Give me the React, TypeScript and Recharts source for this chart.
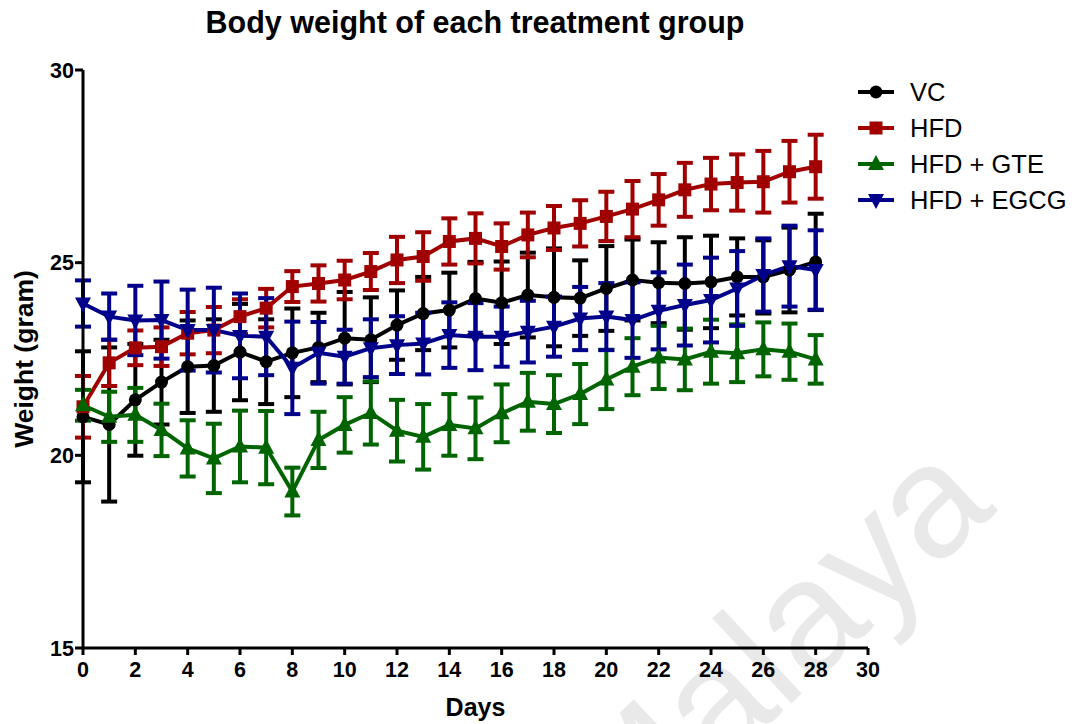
import React from 'react';
import { LineChart, Line, XAxis, YAxis, ErrorBar, Label } from 'recharts';

const days = [0, 1, 2, 3, 4, 5, 6, 7, 8, 9, 10, 11, 12, 13, 14, 15, 16, 17, 18, 19, 20, 21, 22, 23, 24, 25, 26, 27, 28];

const vc = [21.0, 20.8, 21.44, 21.9, 22.3, 22.33, 22.68, 22.43, 22.66, 22.8, 23.04, 23.0, 23.38, 23.68, 23.77, 24.07, 23.96, 24.16, 24.1, 24.08, 24.33, 24.55, 24.48, 24.46, 24.5, 24.63, 24.63, 24.81, 25.02];
const vcSem = [1.7, 2.0, 1.45, 1.1, 1.2, 1.2, 1.25, 1.1, 1.15, 0.9, 1.2, 1.1, 0.9, 0.95, 0.97, 0.95, 1.07, 1.1, 1.27, 0.98, 1.1, 1.05, 1.05, 1.2, 1.2, 1.0, 0.95, 1.1, 1.25];

const hfd = [21.26, 22.4, 22.79, 22.82, 23.17, 23.25, 23.6, 23.82, 24.38, 24.46, 24.55, 24.77, 25.07, 25.16, 25.55, 25.63, 25.42, 25.72, 25.9, 26.02, 26.2, 26.39, 26.63, 26.89, 27.04, 27.08, 27.1, 27.36, 27.49];
const hfdSem = [0.8, 0.6, 0.45, 0.5, 0.55, 0.6, 0.45, 0.5, 0.4, 0.47, 0.5, 0.48, 0.6, 0.63, 0.6, 0.65, 0.6, 0.58, 0.57, 0.6, 0.64, 0.73, 0.67, 0.7, 0.68, 0.73, 0.8, 0.8, 0.83];

const gte = [21.3, 21.0, 21.05, 20.66, 20.18, 19.92, 20.23, 20.2, 19.06, 20.4, 20.79, 21.1, 20.64, 20.48, 20.79, 20.7, 21.09, 21.39, 21.33, 21.59, 21.97, 22.3, 22.54, 22.49, 22.69, 22.65, 22.75, 22.69, 22.49];
const gteSem = [0.4, 0.65, 0.7, 0.68, 0.73, 0.9, 0.93, 0.95, 0.62, 0.73, 0.72, 0.82, 0.8, 0.85, 0.8, 0.8, 0.75, 0.75, 0.75, 0.78, 0.77, 0.74, 0.82, 0.8, 0.83, 0.75, 0.7, 0.73, 0.63];

const egcg = [23.94, 23.6, 23.5, 23.51, 23.25, 23.25, 23.1, 23.08, 22.27, 22.66, 22.56, 22.78, 22.86, 22.9, 23.12, 23.08, 23.08, 23.21, 23.34, 23.55, 23.6, 23.51, 23.75, 23.9, 24.03, 24.33, 24.68, 24.91, 24.81];
const egcgSem = [0.6, 0.6, 0.9, 1.0, 1.05, 1.1, 1.1, 1.0, 1.2, 0.8, 0.7, 0.75, 0.75, 0.8, 0.85, 0.87, 0.78, 0.8, 0.78, 0.82, 0.87, 0.98, 1.0, 1.05, 1.1, 0.97, 0.95, 1.05, 1.03];

const xTicks = [0, 2, 4, 6, 8, 10, 12, 14, 16, 18, 20, 22, 24, 26, 28, 30];
const yTicks = [15, 20, 25, 30];

const seriesNames = ['VC', 'HFD', 'HFD + GTE', 'HFD + EGCG'];
const colors = ['#000000', '#a00000', '#006400', '#00008b'];
const shapes = ['circle', 'square', 'triUp', 'triDown'];

const data = days.map((d, i) => ({
  day: d,
  vc: vc[i], vcErr: vcSem[i],
  hfd: hfd[i], hfdErr: hfdSem[i],
  gte: gte[i], gteErr: gteSem[i],
  egcg: egcg[i], egcgErr: egcgSem[i],
}));

const FONT = 'Arial, "Liberation Sans", Helvetica, sans-serif';

function Marker({ shape, cx, cy, color }: { shape: string; cx: number; cy: number; color: string }) {
  if (shape === 'circle') return <circle cx={cx} cy={cy} r={6.5} fill={color} />;
  if (shape === 'square') return <rect x={cx - 6.5} y={cy - 6.5} width={13} height={13} fill={color} />;
  if (shape === 'triUp') return <polygon points={`${cx},${cy - 9} ${cx - 8},${cy + 6} ${cx + 8},${cy + 6}`} fill={color} />;
  return <polygon points={`${cx},${cy + 9} ${cx - 8},${cy - 6} ${cx + 8},${cy - 6}`} fill={color} />;
}

const makeDot = (shape: string, color: string) => (props: any) => {
  const { cx, cy, index } = props;
  if (cx == null || cy == null) return <g key={`e-${shape}-${index}`} />;
  return (
    <g key={`d-${shape}-${index}`}>
      <Marker shape={shape} cx={cx} cy={cy} color={color} />
    </g>
  );
};

const XTick = (props: any) => {
  const { x, y, payload } = props;
  return (
    <text x={x} y={y + 20} textAnchor="middle" fontFamily={FONT} fontWeight="bold" fontSize={21.5} fill="#000">
      {payload.value}
    </text>
  );
};

const YTick = (props: any) => {
  const { x, y, payload } = props;
  return (
    <text x={x + 1} y={y + 7.5} textAnchor="end" fontFamily={FONT} fontWeight="bold" fontSize={21.5} fill="#000">
      {payload.value}
    </text>
  );
};

const LegendBox = () => (
  <div style={{ position: 'absolute', left: 856, top: 74, width: 220, fontFamily: FONT }}>
    {seriesNames.map((n, i) => (
      <div key={n} style={{ display: 'flex', alignItems: 'center', height: 36 }}>
        <svg width={40} height={24} style={{ marginRight: 14 }}>
          <line x1={2} y1={12} x2={38} y2={12} stroke={colors[i]} strokeWidth={4} />
          <Marker shape={shapes[i]} cx={20} cy={12} color={colors[i]} />
        </svg>
        <span style={{ fontSize: 25.5, color: '#000' }}>{n}</span>
      </div>
    ))}
  </div>
);

export default function App() {
  const keys = ['vc', 'hfd', 'gte', 'egcg'];
  return (
    <div style={{ position: 'absolute', left: 0, top: 0, width: 1076, height: 724, background: '#fff', overflow: 'hidden', fontFamily: FONT }}>
      <div
        style={{
          position: 'absolute', left: 772, top: 646, transform: 'translate(-50%, -50%) rotate(-43deg)',
          fontFamily: FONT, fontSize: 160, lineHeight: 1, color: '#e9e9e9', whiteSpace: 'nowrap',
        }}
      >
        Malaya
      </div>
      <div
        style={{
          position: 'absolute', left: 475, top: 4, transform: 'translateX(-50%)', whiteSpace: 'nowrap',
          fontFamily: FONT, fontWeight: 'bold', fontSize: 30.5, lineHeight: '36px', color: '#000',
        }}
      >
        Body weight of each treatment group
      </div>
      <LegendBox />
      <div style={{ position: 'absolute', left: 0, top: 0 }}>
        <LineChart width={1076} height={724} data={data} margin={{ top: 70, right: 208, bottom: 46, left: 23 }}>
          <XAxis
            type="number"
            dataKey="day"
            domain={[0, 30]}
            ticks={xTicks}
            interval={0}
            height={30}
            axisLine={{ stroke: '#000', strokeWidth: 3 }}
            tickLine={{ stroke: '#000', strokeWidth: 3 }}
            tickSize={7}
            tick={<XTick />}
          >
            <Label
              content={(p: any) => {
                const vb = p.viewBox || { x: 83, y: 648, width: 785 };
                return (
                  <text x={vb.x + vb.width / 2} y={716} textAnchor="middle" fontFamily={FONT} fontWeight="bold" fontSize={25} fill="#000">
                    Days
                  </text>
                );
              }}
            />
          </XAxis>
          <YAxis
            type="number"
            domain={[15, 30]}
            ticks={yTicks}
            interval={0}
            width={60}
            axisLine={{ stroke: '#000', strokeWidth: 3 }}
            tickLine={{ stroke: '#000', strokeWidth: 3 }}
            tickSize={8}
            tick={<YTick />}
          >
            <Label
              content={(p: any) => {
                const vb = p.viewBox || { y: 70, height: 578 };
                const cy = vb.y + vb.height / 2;
                return (
                  <text x={24} y={cy} transform={`rotate(-90, 24, ${cy})`} textAnchor="middle" dominantBaseline="central" fontFamily={FONT} fontWeight="bold" fontSize={26.5} fill="#000">
                    Weight (gram)
                  </text>
                );
              }}
            />
          </YAxis>
          {keys.map((k, i) => (
            <Line
              key={k}
              type="linear"
              dataKey={k}
              name={seriesNames[i]}
              stroke={colors[i]}
              strokeWidth={4}
              dot={makeDot(shapes[i], colors[i])}
              activeDot={false}
              isAnimationActive={false}
            >
              <ErrorBar dataKey={`${k}Err`} direction="y" width={8} strokeWidth={4} stroke={colors[i]} />
            </Line>
          ))}
        </LineChart>
      </div>
    </div>
  );
}
